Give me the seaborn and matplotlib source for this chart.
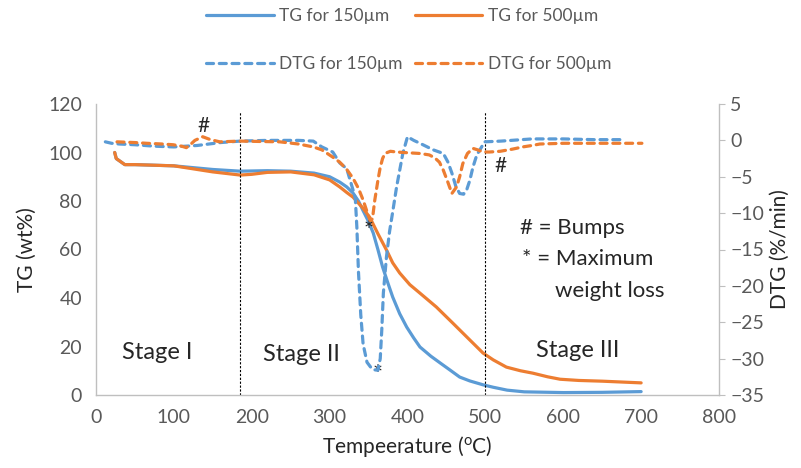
import matplotlib
matplotlib.use("Agg")
import matplotlib.pyplot as plt
import seaborn as sns
from matplotlib.lines import Line2D

# ---------------- data ----------------
tg150_T = [24, 26, 37, 50, 100, 150, 185, 220, 250, 280, 300, 313, 322, 330, 337, 343, 350, 356, 362,
           368, 375, 381, 390, 399, 408, 416, 430, 442, 455, 467, 480, 497, 510, 528, 550, 600, 650, 700]
tg150 = [100, 97.5, 95, 95, 94.5, 93, 92.3, 92.5, 92.3, 91.5, 90, 87.8, 85.8, 83.3, 80, 76, 71.5, 66.8, 60,
         52.8, 46, 40.4, 33.5, 28, 23.5, 19.8, 16, 13.2, 10.2, 7.4, 5.8, 4.2, 3.2, 2, 1.3, 1.0, 1.1, 1.4]

tg500_T = [24, 26, 37, 50, 100, 150, 185, 200, 220, 250, 280, 300, 313, 322, 330, 343, 352, 362, 373, 381,
           390, 403, 416, 437, 458, 480, 497, 510, 527, 545, 561, 580, 596, 620, 650, 700]
tg500 = [100, 97.5, 95, 95, 94.5, 92, 90.7, 91, 91.8, 92, 90.8, 88.7, 85.8, 83.5, 81.6, 77, 73, 66.5, 59.8, 54.5,
         50.3, 45.5, 42, 36.3, 29.7, 22.7, 17.3, 14.5, 11.5, 10, 9, 7.5, 6.5, 6, 5.7, 5]

dtg150_T = [12, 20, 30, 50, 75, 100, 130, 160, 185, 220, 260, 279, 290, 304, 313, 322, 330, 333, 335, 337,
            340, 343, 348, 355, 362, 365, 367, 369, 373, 377, 380, 386, 394, 400, 408, 416, 433, 446, 452,
            457, 462, 467, 472, 476, 480, 484, 489, 493, 499, 520, 560, 600, 640, 677]
dtg150 = [-0.2, -0.4, -0.5, -0.6, -0.8, -0.9, -0.7, -0.3, -0.1, 0, 0, -0.1, -0.9, -1.6, -3.1, -3.9, -6.8, -8, -12, -18,
          -24, -28, -30.5, -31.5, -31.6, -30, -26, -21, -16, -12.5, -10.5, -6.4, -1.8, 0.5, 0.0, -0.4, -1.3, -1.8, -3.0,
          -4.5, -6.3, -7.3, -7.4, -6.8, -5.5, -3.7, -2.0, -1.3, -0.2, -0.1, 0.2, 0.2, 0.1, 0.1]

dtg500_T = [27, 50, 65, 85, 99, 110, 116, 122, 127, 137, 147, 159, 185, 236, 260, 279, 290, 304, 313, 322,
            330, 337, 343, 348, 352, 355, 358, 362, 365, 368, 371, 378, 386, 400, 416, 428, 435, 441, 446,
            452, 457, 463, 467, 471, 477, 484, 490, 497, 505, 519, 535, 548, 560, 570, 600, 621, 660, 701]
dtg500 = [-0.2, -0.3, -0.4, -0.5, -0.6, -0.8, -1.0, -0.5, 0, 0.5, 0.1, -0.2, -0.1, -0.2, -0.5, -0.9, -1.3, -2.3, -3.0, -4.0,
          -5.2, -6.6, -8.2, -9.8, -11, -10.8, -8.2, -5.5, -3.7, -2.5, -1.8, -1.5, -1.6, -1.7, -1.8, -2.0, -2.4, -3.0, -4.1,
          -5.8, -7.3, -6.4, -5.0, -3.2, -1.8, -1.1, -1.3, -1.6, -1.6, -1.5, -1.2, -0.9, -0.7, -0.5, -0.4, -0.4, -0.4, -0.4]

x_ticks = [0, 100, 200, 300, 400, 500, 600, 700, 800]
tg_ticks = [0, 20, 40, 60, 80, 100, 120]
dtg_ticks = [-35, -30, -25, -20, -15, -10, -5, 0, 5]
stage_bounds = [185, 500]
labels = ["TG for 150µm", "DTG for 150µm", "TG for 500µm", "DTG for 500µm"]

BLUE = "#5B9BD5"
ORANGE = "#ED7D31"
GRAY = "#595959"
SPINE = "#BFBFBF"
DASH = (2.2, 1.8)

sns.set_style("white")
plt.rcParams["font.family"] = ["Lato", "DejaVu Sans"]

fig = plt.figure(figsize=(8.01, 4.68), dpi=100)
ax = fig.add_axes([96 / 801, 73 / 468, (719 - 96) / 801, (395 - 104) / 468])
ax2 = ax.twinx()

lw = 2.3
sns.lineplot(x=tg150_T, y=tg150, ax=ax, color=BLUE, lw=lw, estimator=None, sort=False)
sns.lineplot(x=tg500_T, y=tg500, ax=ax, color=ORANGE, lw=lw, estimator=None, sort=False)
l1 = sns.lineplot(x=dtg150_T, y=dtg150, ax=ax2, color=BLUE, lw=lw, estimator=None, sort=False).lines[-1]
l2 = sns.lineplot(x=dtg500_T, y=dtg500, ax=ax2, color=ORANGE, lw=lw, estimator=None, sort=False).lines[-1]
for ln in (l1, l2):
    ln.set_dashes(DASH)
    ln.set_dash_capstyle("round")

ax.set_xlim(0, 800)
ax.set_ylim(0, 120)
ax2.set_ylim(-35, 5)
ax.set_xticks(x_ticks)
ax.set_yticks(tg_ticks)
ax2.set_yticks(dtg_ticks)

for a in (ax, ax2):
    for s in a.spines.values():
        s.set_visible(False)
ax.spines["left"].set_visible(True)
ax.spines["bottom"].set_visible(True)
ax2.spines["right"].set_visible(True)
for s in (ax.spines["left"], ax.spines["bottom"], ax2.spines["right"]):
    s.set_color(SPINE)
    s.set_linewidth(1.0)

ax.tick_params(axis="y", length=0, labelsize=14, labelcolor=GRAY, pad=10)
ax.tick_params(axis="x", length=0, labelsize=14, labelcolor=GRAY, pad=10)
ax2.tick_params(axis="y", length=4, color=SPINE, labelsize=14, labelcolor=GRAY, pad=4)

ax.set_xlabel(r"Tempeerature ($\mathregular{^o}$C)", fontsize=15, color="#262626", labelpad=6)
ax.set_ylabel("TG (wt%)", fontsize=15, color="#262626", labelpad=8)
ax2.set_ylabel("DTG (%/min)", fontsize=15, color="#262626", labelpad=4)

for xb in stage_bounds:
    ax.axvline(xb, ymin=0, ymax=0.973, color="black", lw=0.8, ls=(0, (2, 1.5)))

ax.text(78, 17.5, "Stage I", fontsize=17, ha="center", va="center")
ax.text(264, 16.5, "Stage II", fontsize=17, ha="center", va="center")
ax.text(619, 18.5, "Stage III", fontsize=17, ha="center", va="center")
ax.text(138, 111, "#", fontsize=15, ha="center", va="center")
ax.text(520, 94.5, "#", fontsize=15, ha="center", va="center")
ax.text(350, 68, "*", fontsize=17, ha="center", va="center")
ax.text(361, 8.5, "*", fontsize=17, ha="center", va="center")
ax.text(545, 69, "# = Bumps", fontsize=16, ha="left", va="center")
ax.text(547, 56, "* = Maximum", fontsize=16, ha="left", va="center")
ax.text(590, 43, "weight loss", fontsize=16, ha="left", va="center")

handles = [
    Line2D([], [], color=BLUE, lw=lw),
    Line2D([], [], color=BLUE, lw=lw, dashes=DASH, dash_capstyle="round"),
    Line2D([], [], color=ORANGE, lw=lw),
    Line2D([], [], color=ORANGE, lw=lw, dashes=DASH, dash_capstyle="round"),
]
leg = fig.legend(handles, labels, ncol=2, loc="upper center", bbox_to_anchor=(0.51, 1.017),
                 frameon=False, fontsize=12.5, handlelength=3.9, handletextpad=0.3,
                 columnspacing=0.7, labelspacing=1.85)
for t in leg.get_texts():
    t.set_color(GRAY)

fig.savefig("out.png", dpi=100)
